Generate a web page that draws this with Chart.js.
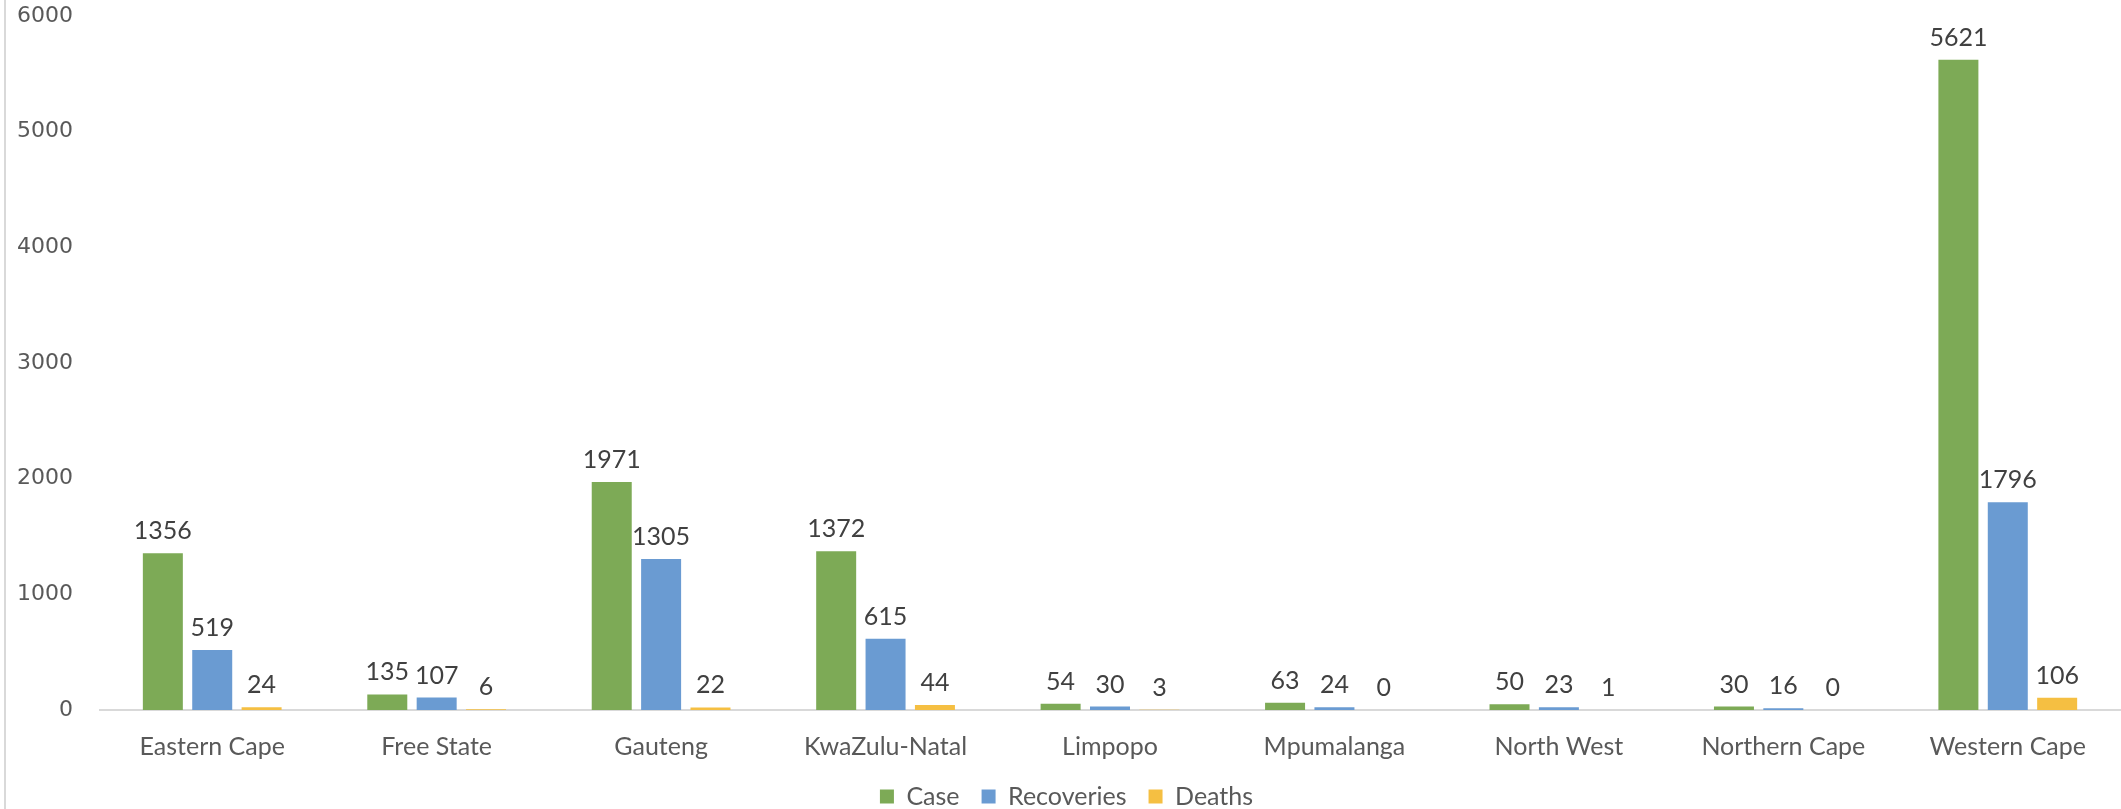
<!DOCTYPE html>
<html>
<head>
<meta charset="utf-8">
<script src="https://cdn.jsdelivr.net/npm/chart.js@4/dist/chart.umd.min.js"></script>
<style>
  html, body { margin: 0; padding: 0; background: #fff; }
  #wrap { width: 2121px; height: 809px; position: relative; }
</style>
</head>
<body>
<div id="wrap"><canvas id="provChart"></canvas></div>
<script>
// provinces and counts
const provinces = ['Eastern Cape', 'Free State', 'Gauteng', 'KwaZulu-Natal', 'Limpopo',
  'Mpumalanga', 'North West', 'Northern Cape', 'Western Cape'];
const cases = [1356, 135, 1971, 1372, 54, 63, 50, 30, 5621];
const recoveries = [519, 107, 1305, 615, 30, 24, 23, 16, 1796];
const deaths = [24, 6, 22, 44, 3, 0, 1, 0, 106];
const yTicks = [0, 1000, 2000, 3000, 4000, 5000, 6000];

// draws the value above every bar
const valueLabels = {
  id: 'valueLabels',
  afterDatasetsDraw(chart) {
    const ctx = chart.ctx;
    ctx.save();
    ctx.font = '25px Lato';
    ctx.fillStyle = '#404040';
    ctx.textAlign = 'center';
    ctx.textBaseline = 'alphabetic';
    chart.data.datasets.forEach((ds, i) => {
      chart.getDatasetMeta(i).data.forEach((bar, j) => {
        ctx.fillText(String(ds.data[j]), bar.x, bar.y - 14);
      });
    });
    ctx.restore();
  }
};

// thin frame line on the left edge
const leftEdge = {
  id: 'leftEdge',
  beforeDraw(chart) {
    const ctx = chart.ctx;
    ctx.save();
    ctx.strokeStyle = '#d9d9d9';
    ctx.lineWidth = 2;
    ctx.beginPath();
    ctx.moveTo(5, 0);
    ctx.lineTo(5, chart.height);
    ctx.stroke();
    ctx.restore();
  }
};

const ctx = document.getElementById('provChart').getContext('2d');
new Chart(ctx, {
  type: 'bar',
  data: {
    labels: provinces,
    datasets: [
      { label: 'Case', data: cases, backgroundColor: '#7daa56' },
      { label: 'Recoveries', data: recoveries, backgroundColor: '#6a9bd2' },
      { label: 'Deaths', data: deaths, backgroundColor: '#f5bf42' }
    ]
  },
  options: {
    responsive: true,
    maintainAspectRatio: false,
    animation: false,
    devicePixelRatio: 1,
    layout: { padding: { left: 13, right: 1, top: 16, bottom: -10 } },
    datasets: { bar: { categoryPercentage: 0.66, barPercentage: 0.81 } },
    plugins: {
      tooltip: { enabled: false },
      legend: {
        position: 'bottom',
        labels: {
          boxWidth: 14,
          boxHeight: 14,
          padding: 22,
          color: '#595959',
          font: { family: 'Lato', size: 25 }
        }
      }
    },
    scales: {
      x: {
        grid: { display: false, drawTicks: false },
        border: { display: true, color: '#d9d9d9', width: 2 },
        ticks: { color: '#595959', font: { family: 'Lato', size: 25 }, padding: 22 },
        afterFit(axis) { axis.paddingLeft = 0; axis.paddingRight = 0; axis.height = 52; }
      },
      y: {
        min: 0,
        max: 6000,
        afterBuildTicks(axis) { axis.ticks = yTicks.map(v => ({ value: v })); },
        afterFit(axis) { axis.paddingTop = 13; axis.paddingBottom = 13; axis.width = 87; },
        grid: { display: false, drawTicks: false },
        border: { display: false },
        ticks: {
          color: '#595959',
          font: { family: 'DejaVu Sans', size: 22 },
          padding: 27,
          callback: v => String(v)
        }
      }
    }
  },
  plugins: [valueLabels, leftEdge]
});
</script>
</body>
</html>
